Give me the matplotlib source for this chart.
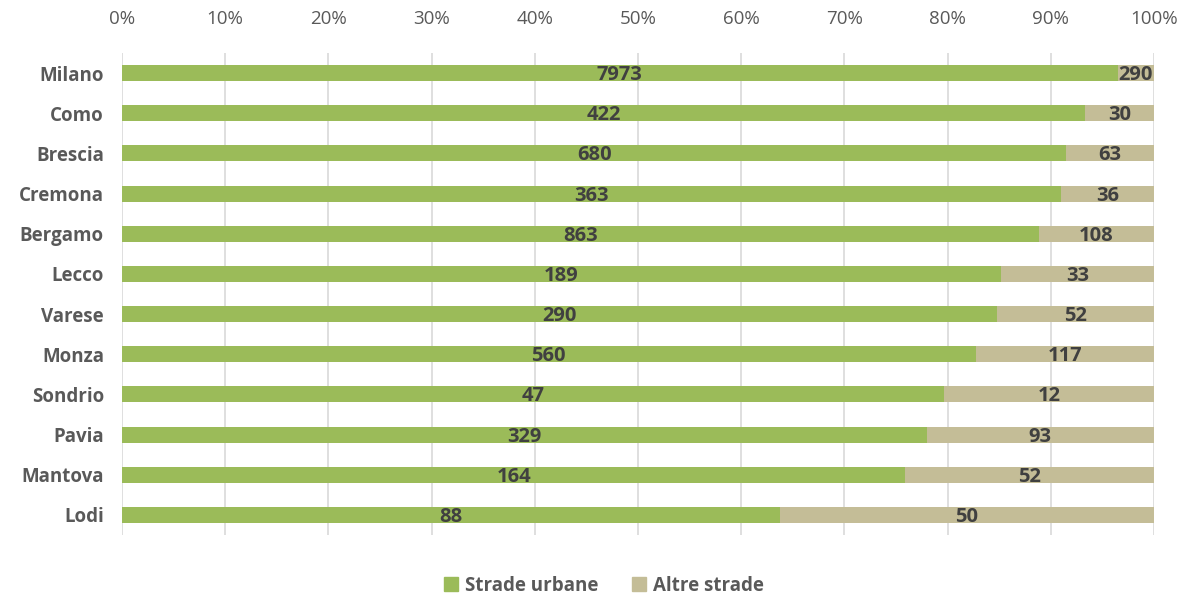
import matplotlib.pyplot as plt
from matplotlib.patches import Patch

plt.rcParams['font.family'] = ['Open Sans', 'DejaVu Sans']

# Incidenti per provincia: strade urbane vs altre strade
province = ["Milano", "Como", "Brescia", "Cremona", "Bergamo", "Lecco",
            "Varese", "Monza", "Sondrio", "Pavia", "Mantova", "Lodi"]
urbane = [7973, 422, 680, 363, 863, 189, 290, 560, 47, 329, 164, 88]
altre = [290, 30, 63, 36, 108, 33, 52, 117, 12, 93, 52, 50]

green = '#9BBB59'
tan = '#C4BD97'
text_col = '#404040'

fig = plt.figure(figsize=(11.84, 5.96), dpi=100)
ax = fig.add_axes([0.103, 0.1023, 0.8716, 0.8087])

y = list(range(len(province)))
tot = [u + a for u, a in zip(urbane, altre)]
pu = [u / t for u, t in zip(urbane, tot)]
pa = [a / t for a, t in zip(altre, tot)]

ax.barh(y, pu, height=0.4, color=green, zorder=2)
ax.barh(y, pa, left=pu, height=0.4, color=tan, zorder=2)

for i in y:
    ax.text(pu[i] / 2, i + 0.05, str(urbane[i]), ha='center', va='center',
            fontsize=14.5, fontweight='bold', color=text_col, zorder=3)
    ax.text(pu[i] + pa[i] / 2, i + 0.05, str(altre[i]), ha='center', va='center',
            fontsize=14.5, fontweight='bold', color=text_col, zorder=3)

ax.set_xlim(0, 1)
ax.set_ylim(len(province) - 0.5, -0.5)
ax.set_yticks(y)
ax.set_yticklabels(province, fontsize=13.5, fontweight='bold', color='#595959')
ax.set_xticks([i / 10 for i in range(11)])
ax.set_xticklabels([f"{i * 10}%" for i in range(11)], fontsize=13.5, color='#595959')
ax.xaxis.tick_top()
ax.tick_params(axis='both', length=0)
ax.tick_params(axis='x', pad=18)
ax.tick_params(axis='y', pad=13)
ax.grid(axis='x', color='#D9D9D9', linewidth=1.2, zorder=0)
for s in ax.spines.values():
    s.set_visible(False)

handles = [Patch(color=green, label='Strade urbane'),
           Patch(color=tan, label='Altre strade')]
fig.legend(handles=handles, loc='center', bbox_to_anchor=(0.51, 0.017),
           ncol=2, frameon=False, handlelength=0.75, handleheight=0.75,
           handletextpad=0.35, columnspacing=1.8,
           prop={'size': 13.5, 'weight': 'bold'}, labelcolor='#595959')

fig.savefig('out.png', dpi=100)
